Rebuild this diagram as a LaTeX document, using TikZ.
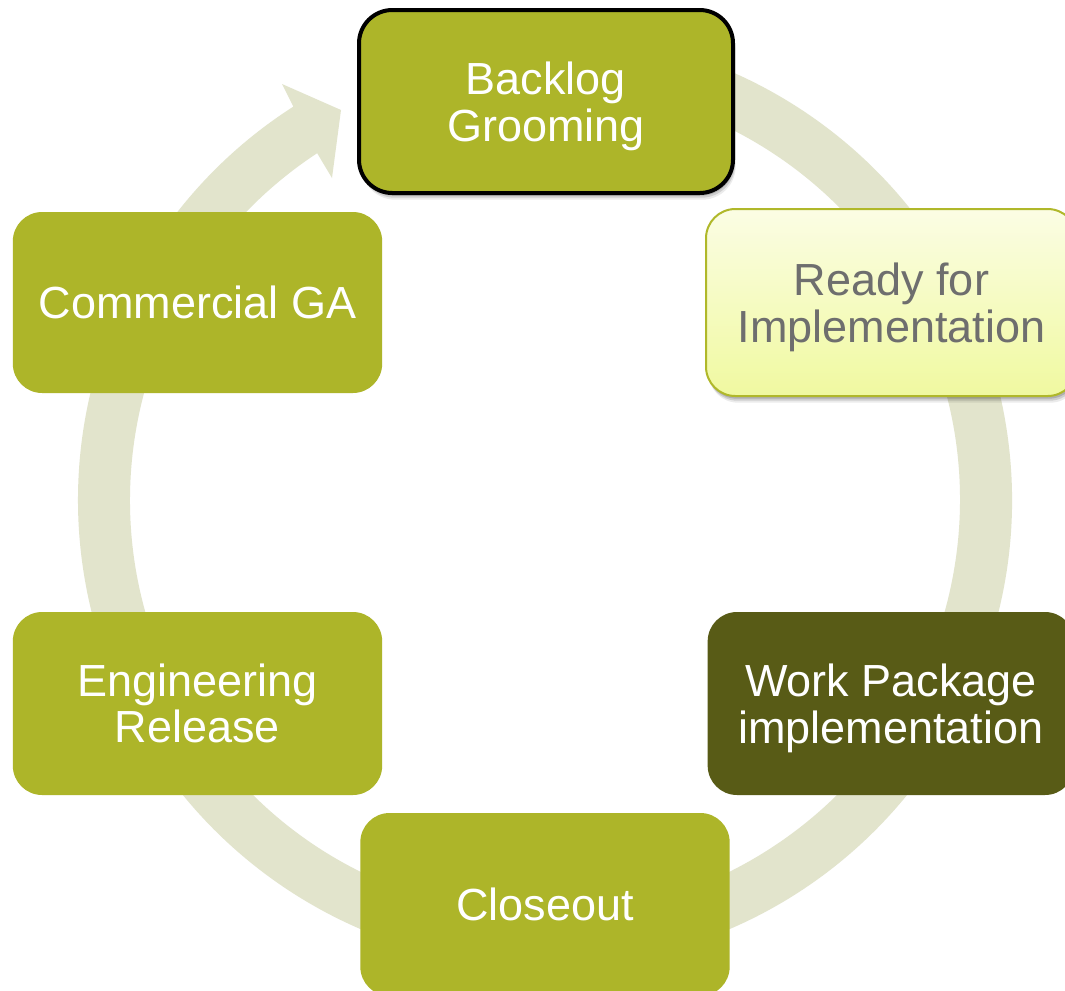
\documentclass[tikz,border=0pt]{standalone}
\usepackage{fontspec}
\setmainfont{Liberation Sans}
\usetikzlibrary{calc,shadows}
\definecolor{olive}{RGB}{173,181,41}
\definecolor{darkolive}{RGB}{88,91,22}
\definecolor{ringc}{RGB}{226,228,204}
\definecolor{ytop}{RGB}{251,253,228}
\definecolor{ybot}{RGB}{240,249,160}
\definecolor{yborder}{RGB}{176,184,42}
\definecolor{gtext}{RGB}{110,110,110}
\begin{document}
\begin{tikzpicture}[x=0.75pt,y=0.75pt,
  stage/.style={rounded corners=22pt, align=center, text=white, fill=olive,
    font=\fontsize{33.75pt}{35pt}\selectfont, inner sep=0pt,
    minimum width=277pt, minimum height=137.25pt},
  softshadow/.style={
    general shadow={fill=black, opacity=0.08, shadow xshift=2pt, shadow yshift=-5pt},
    general shadow={fill=black, opacity=0.12, shadow xshift=1.5pt, shadow yshift=-3.5pt},
    general shadow={fill=black, opacity=0.15, shadow xshift=1pt, shadow yshift=-2pt}},
  ring/.style={fill=ringc}
]
\useasboundingbox (0,0) rectangle (1065,-990);
\clip (0,0) rectangle (1065,-990);
\fill[white] (0,0) rectangle (1065,-990);
\coordinate (ctr) at (545,-500);
\coordinate (hdout) at (282,-84);
\coordinate (hdtip) at (341,-110);
\coordinate (hdin) at (332,-178);
% circular arrow
\fill[ring] (ctr) ++(100:350.25pt)
  arc[start angle=100, end angle=-237.4, radius=350.25pt]
  -- (hdout) -- (hdtip) -- (hdin)
  -- ($(ctr)+(-236.7:311.25pt)$)
  arc[start angle=-236.7, end angle=100, radius=311.25pt] -- cycle;
% stages
\node[stage, softshadow, draw=black, line width=3pt, minimum width=280.5pt, rounded corners=25pt, text depth=0pt]
  (bg) at (546,-101.5) {Backlog\\Grooming};
\node[stage, softshadow, draw=yborder, line width=1.5pt, top color=ytop, bottom color=ybot,
  text=gtext, minimum width=278.25pt, minimum height=140.25pt, text depth=0pt]
  (ready) at (891.5,-302.5) {Ready for\\Implementation};
\node[stage, fill=darkolive, minimum width=275pt, text depth=0pt] (wp) at (891,-703.5) {Work Package\\implementation};
\node[stage] (close) at (545,-904.5) {Closeout};
\node[stage] (eng) at (197.5,-703.5) {Engineering\\Release};
\node[stage, minimum height=135.75pt] (cga) at (197.5,-302.5) {Commercial GA};
\end{tikzpicture}
\end{document}
